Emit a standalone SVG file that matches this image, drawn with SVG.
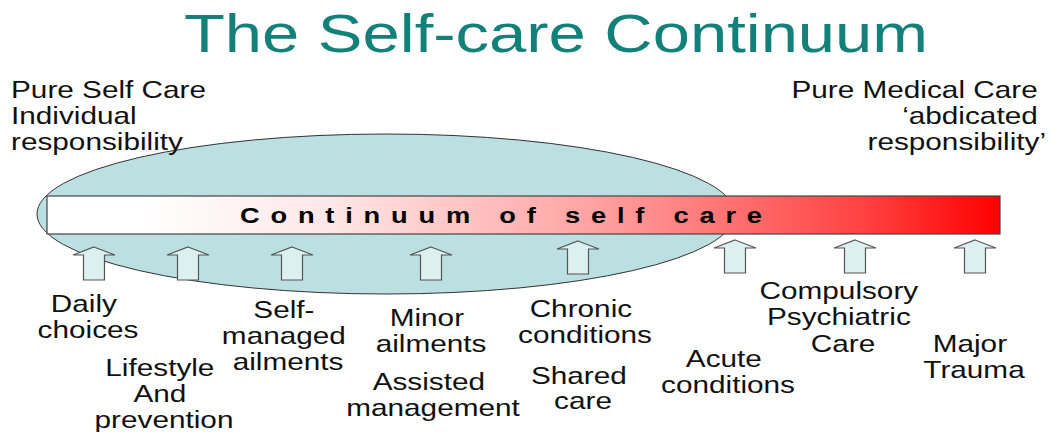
<svg xmlns="http://www.w3.org/2000/svg" xmlns:xlink="http://www.w3.org/1999/xlink" width="1055" height="432" viewBox="0 0 1055 432">
  <style>
    .title { font-family: "Liberation Sans", Arial, sans-serif; font-size: 54px; fill: #13807a; text-anchor: middle; }
    .lbl { font-family: "Liberation Sans", Arial, sans-serif; font-size: 24px; fill: #111; text-anchor: middle; }
    .lbl-l { text-anchor: start; }
    .lbl-r { text-anchor: end; }
    .bar-text { font-family: "Liberation Sans", Arial, sans-serif; font-size: 22px; font-weight: bold; fill: #000; }
    .zone { fill: #bcdfe2; stroke: #333; stroke-width: 1; }
    .bar { fill: url(#careGradient); stroke: #444; stroke-width: 1.2; }
    .pointer { fill: #dcf0f2; stroke: #555; stroke-width: 1.2; stroke-linejoin: miter; }
  </style>
  <defs>
    <linearGradient id="careGradient" x1="0" y1="0" x2="1" y2="0">
      <stop offset="0" stop-color="#ffffff"/>
      <stop offset="0.1" stop-color="#ffffff"/>
      <stop offset="0.3" stop-color="#ffe6e6"/>
      <stop offset="0.58" stop-color="#ffa0a0"/>
      <stop offset="0.72" stop-color="#ff7070"/>
      <stop offset="0.86" stop-color="#ff4040"/>
      <stop offset="1" stop-color="#ff0000"/>
    </linearGradient>
    <!-- block arrow pointing up, tip at origin -->
    <path id="upArrow" d="M0,0 L21,8 L10.5,8 L10.5,33 L-10.5,33 L-10.5,8 L-21,8 Z"/>
  </defs>

  <!-- title -->
  <text class="title" transform="translate(556,0) scale(1.24,1)" x="0" y="52">The Self-care Continuum</text>

  <!-- self-care zone -->
  <g id="self-care-zone">
    <ellipse class="zone" cx="386" cy="214" rx="349" ry="80"/>
  </g>

  <!-- continuum bar -->
  <g id="continuum-bar">
    <rect class="bar" x="47" y="196" width="953" height="38"/>
    <text class="bar-text" transform="translate(240,0) scale(1.24,1)" x="0" y="223" textLength="421" lengthAdjust="spacing">Continuum of self care</text>
  </g>

  <!-- pointers into the bar -->
  <g id="connectors">
    <use class="pointer" xlink:href="#upArrow" transform="translate(94,247)"/>
    <use class="pointer" xlink:href="#upArrow" transform="translate(188,247)"/>
    <use class="pointer" xlink:href="#upArrow" transform="translate(292,247)"/>
    <use class="pointer" xlink:href="#upArrow" transform="translate(431,247)"/>
    <use class="pointer" xlink:href="#upArrow" transform="translate(578,241)"/>
    <use class="pointer" xlink:href="#upArrow" transform="translate(735,240)"/>
    <use class="pointer" xlink:href="#upArrow" transform="translate(855,240)"/>
    <use class="pointer" xlink:href="#upArrow" transform="translate(975,240)"/>
  </g>

  <!-- end-point captions -->
  <g id="pure-self-care">
    <text class="lbl lbl-l" transform="translate(11,0) scale(1.24,1)">
      <tspan x="0" y="98">Pure Self Care</tspan>
      <tspan x="0" y="124">Individual</tspan>
      <tspan x="0" y="150">responsibility</tspan>
    </text>
  </g>
  <g id="pure-medical-care">
    <text class="lbl lbl-r" transform="translate(1046,0) scale(1.24,1)">
      <tspan x="0" y="98">Pure Medical Care</tspan>
      <tspan x="0" y="124">‘abdicated</tspan>
      <tspan x="0" y="150">responsibility’</tspan>
    </text>
  </g>

  <!-- stages along the continuum -->
  <g id="daily-choices">
    <text class="lbl" transform="translate(88,0) scale(1.24,1)">
      <tspan x="0" y="312">Daily</tspan>
      <tspan x="0" y="338">choices</tspan>
    </text>
  </g>
  <g id="lifestyle">
    <text class="lbl" transform="translate(164,0) scale(1.24,1)">
      <tspan x="0" y="376">Lifestyle</tspan>
      <tspan x="0" y="402">And</tspan>
      <tspan x="0" y="428">prevention</tspan>
    </text>
  </g>
  <g id="self-managed">
    <text class="lbl" transform="translate(288,0) scale(1.24,1)">
      <tspan x="0" y="318">Self-</tspan>
      <tspan x="0" y="344">managed</tspan>
      <tspan x="0" y="370">ailments</tspan>
    </text>
  </g>
  <g id="minor-ailments">
    <text class="lbl" transform="translate(431,0) scale(1.24,1)">
      <tspan x="0" y="326">Minor</tspan>
      <tspan x="0" y="352">ailments</tspan>
    </text>
  </g>
  <g id="assisted-management">
    <text class="lbl" transform="translate(433,0) scale(1.24,1)">
      <tspan x="0" y="390">Assisted</tspan>
      <tspan x="0" y="416">management</tspan>
    </text>
  </g>
  <g id="chronic-conditions">
    <text class="lbl" transform="translate(585,0) scale(1.24,1)">
      <tspan x="0" y="317">Chronic</tspan>
      <tspan x="0" y="343">conditions</tspan>
    </text>
  </g>
  <g id="shared-care">
    <text class="lbl" transform="translate(583,0) scale(1.24,1)">
      <tspan x="0" y="384">Shared</tspan>
      <tspan x="0" y="409">care</tspan>
    </text>
  </g>
  <g id="acute-conditions">
    <text class="lbl" transform="translate(728,0) scale(1.24,1)">
      <tspan x="0" y="367">Acute</tspan>
      <tspan x="0" y="393">conditions</tspan>
    </text>
  </g>
  <g id="compulsory-psychiatric">
    <text class="lbl" transform="translate(843,0) scale(1.24,1)">
      <tspan x="0" y="299">Compulsory</tspan>
      <tspan x="0" y="325">Psychiatric</tspan>
      <tspan x="0" y="352">Care</tspan>
    </text>
  </g>
  <g id="major-trauma">
    <text class="lbl" transform="translate(974,0) scale(1.24,1)">
      <tspan x="0" y="352">Major</tspan>
      <tspan x="0" y="378">Trauma</tspan>
    </text>
  </g>
</svg>
